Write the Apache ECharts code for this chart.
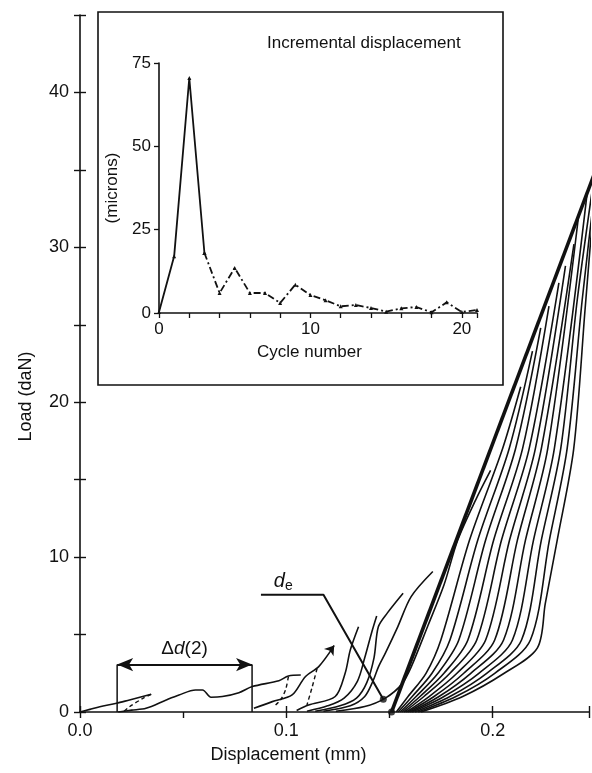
<!DOCTYPE html>
<html><head><meta charset="utf-8">
<script src="https://cdn.jsdelivr.net/npm/echarts/dist/echarts.min.js"></script>
<style>html,body{margin:0;padding:0;background:#fff}#c{width:592px;height:773px}</style>
</head><body><div id="c"></div>
<script>
// ---------- main chart: load vs displacement (x in mm, y in daN) ----------
const xTicks = [0.0, 0.1, 0.2];
const yTicks = [0, 10, 20, 30, 40];

const cycle1 = [[0,0],[0.0048,0.17],[0.0096,0.34],[0.0177,0.56],[0.024,0.78],[0.0345,1.14]];
const cycle2 = [[0.0185,0],[0.025,0.12],[0.032,0.24],[0.0418,0.78],[0.048,1.1],[0.056,1.42],[0.0594,1.42],[0.0635,0.95],[0.069,1.0],[0.077,1.25],[0.0835,1.64],[0.0964,2.02],[0.101,2.33],[0.107,2.39]];
const cycle3 = [[0.0843,0.24],[0.0932,0.67],[0.1028,1.1],[0.1092,2.28],[0.1157,2.93],[0.1229,4.22]];
const cycle4 = [[0.105,0.1],[0.1108,0.45],[0.1237,1.0],[0.1285,2.5],[0.131,4.0],[0.135,5.5]];
const cycle5 = [[0.110,0.05],[0.120,0.4],[0.128,0.9],[0.1345,2.0],[0.138,3.5],[0.1415,5.2],[0.1438,6.2]];
const cycle6 = [[0.114,0.05],[0.126,0.4],[0.134,0.9],[0.139,1.9],[0.1425,3.5],[0.1446,5.5],[0.149,6.4],[0.1566,7.67]];
const cycle7 = [[0.118,0.05],[0.131,0.4],[0.138,1.0],[0.142,2.0],[0.1446,2.9],[0.148,3.8],[0.154,5.5],[0.1605,7.45],[0.171,9.07]];
const cycle8 = [[0.124,0.05],[0.138,0.35],[0.148,0.9],[0.156,1.8],[0.1605,2.9],[0.1687,5.6],[0.1764,8.2],[0.1831,11.1],[0.1918,13.7],[0.199,15.6]];
const cycle9  = [[0.1533,0],[0.1590,1.0],[0.1677,2.5],[0.1749,4.65],[0.1888,11.1],[0.2048,17.0],[0.2136,21.0]];
const cycle10 = [[0.1542,0],[0.1610,1.0],[0.1706,2.5],[0.1793,4.65],[0.1928,11.1],[0.2080,17.0],[0.2193,23.3]];
const cycle11 = [[0.1552,0],[0.1629,1.0],[0.1735,2.5],[0.1836,4.65],[0.1966,11.1],[0.2111,17.0],[0.2233,24.8]];
const cycle12 = [[0.1561,0],[0.1648,1.0],[0.1764,2.5],[0.1880,4.65],[0.2005,11.1],[0.2145,17.0],[0.2273,26.2]];
const cycle13 = [[0.1571,0],[0.1667,1.0],[0.1793,2.5],[0.1923,4.65],[0.2043,11.1],[0.2177,17.0],[0.2321,27.7]];
const cycle14 = [[0.1581,0],[0.1692,1.0],[0.1827,2.5],[0.1966,4.65],[0.2082,11.1],[0.2207,17.0],[0.2353,28.8]];
const cycle15 = [[0.1590,0],[0.1716,1.0],[0.1860,2.5],[0.2010,4.65],[0.2120,11.1],[0.2236,17.0],[0.2394,30.2]];
const cycle16 = [[0.1600,0],[0.1740,1.0],[0.1894,2.5],[0.2053,4.65],[0.2159,11.1],[0.2267,17.0],[0.2418,32.2]];
const cycle17 = [[0.1610,0],[0.1764,1.0],[0.1933,2.5],[0.2096,4.65],[0.2198,11.1],[0.2299,17.0],[0.2458,33.5]];
const cycle18 = [[0.1624,0],[0.1793,1.0],[0.1971,2.5],[0.2140,4.65],[0.2236,11.1],[0.2330,17.0],[0.2410,26.6],[0.2487,34.1]];
const cycle19 = [[0.1639,0],[0.1822,1.0],[0.2010,2.5],[0.2183,4.65],[0.2275,11.1],[0.2361,17.0],[0.2434,26.6],[0.2506,35.0]];
const cycle20 = [[0.1653,0],[0.1855,1.0],[0.2056,2.5],[0.2217,4.14],[0.2255,7.0],[0.2313,11.1],[0.2393,17.0],[0.2448,26.0],[0.2506,35.5]];

const unload1 = [[0.0345,1.14],[0.0305,0.88],[0.024,0.34],[0.021,0]];
const unload2 = [[0.101,2.28],[0.0996,1.42],[0.0972,0.78],[0.0948,0.45]];
const unload3 = [[0.1149,2.8],[0.1125,1.6],[0.110,0.45]];

const elasticLine = [[0.151,0],[0.25,35]];
const deLeader = [[0.0877,7.57],[0.118,7.57],[0.147,0.82]];
const deDots = [[0.147,0.82],[0.151,0]];
const deLabelAt = [0.0985,8.4];
const deltaD2 = {x1:0.018, x2:0.0834, y:3.06};
const arrowCycle3 = [[0.1212,3.95],[0.1232,4.3]];

// ---------- inset: incremental displacement ----------
const cycles = [0,1,2,3,4,5,6,7,8,9,10,11,12,13,14,15,16,17,18,19,20,21];
const microns = [0.3,17,70.5,18,6,13.5,6,6,3,8.5,5.4,3.8,2,2.4,1.5,0.4,1.4,1.8,0.2,3.2,0.3,0.9];
const insetXTicks = [0,10,20];
const insetYTicks = [0,25,50,75];

const FONT = 'Liberation Sans, Arial, Helvetica, sans-serif';
const INK = '#111';

const loadingCurves = [cycle1,cycle2,cycle3,cycle4,cycle5,cycle6,cycle7,cycle8,cycle9,cycle10,cycle11,cycle12,cycle13,cycle14,cycle15,cycle16,cycle17,cycle18,cycle19,cycle20];
const unloadCurves = [unload1,unload2,unload3];

const near = (v, list) => list.some(t => Math.abs(t - v) < 1e-6);

const series = [];
loadingCurves.forEach(c => series.push({
  type:'line', xAxisIndex:0, yAxisIndex:0, data:c, showSymbol:false, smooth:0.3,
  lineStyle:{color:INK, width:1.6}, silent:true, z:3
}));
unloadCurves.forEach(c => series.push({
  type:'line', xAxisIndex:0, yAxisIndex:0, data:c, showSymbol:false, smooth:0.3,
  lineStyle:{color:INK, width:1.4, type:[4,3]}, silent:true, z:3
}));
series.push({
  type:'line', xAxisIndex:0, yAxisIndex:0, data:elasticLine, showSymbol:false,
  lineStyle:{color:INK, width:3.6}, silent:true, z:4
});
series.push({
  type:'line', xAxisIndex:0, yAxisIndex:0, data:deLeader, showSymbol:false,
  lineStyle:{color:INK, width:2}, silent:true, z:5,
  markPoint:{
    symbol:'circle', symbolSize:0, silent:true,
    data:[{coord:deLabelAt, value:'d', label:{show:true, position:'inside',
      formatter:'{d|d}{e|e}', rich:{d:{fontFamily:FONT, fontSize:20, fontStyle:'italic', color:INK},
        e:{fontFamily:FONT, fontSize:14, color:INK, padding:[8,0,0,0]}}}}]
  },
  markLine:{
    silent:true, symbol:['none','arrow'], symbolSize:9, label:{show:false},
    lineStyle:{color:INK, width:1.6, type:'solid'},
    data:[[{coord:arrowCycle3[0]},{coord:arrowCycle3[1]}]]
  }
});
series.push({
  type:'scatter', xAxisIndex:0, yAxisIndex:0, data:deDots, symbol:'circle', symbolSize:7,
  itemStyle:{color:INK}, silent:true, z:6
});
// delta d(2) bracket
series.push({
  type:'line', xAxisIndex:0, yAxisIndex:0,
  data:[[deltaD2.x1,0],[deltaD2.x1,deltaD2.y]], showSymbol:false,
  lineStyle:{color:INK, width:1.5}, silent:true
});
series.push({
  type:'line', xAxisIndex:0, yAxisIndex:0,
  data:[[deltaD2.x2,0],[deltaD2.x2,deltaD2.y]], showSymbol:false,
  lineStyle:{color:INK, width:1.5}, silent:true,
  markLine:{
    silent:true, symbol:['arrow','arrow'], symbolSize:[10,16],
    lineStyle:{color:INK, width:2, type:'solid'},
    label:{show:true, position:'middle', distance:6,
      formatter:'Δ{i|d}(2)', fontFamily:FONT, fontSize:19, color:INK,
      rich:{i:{fontFamily:FONT, fontSize:19, fontStyle:'italic', color:INK}}},
    data:[[{coord:[deltaD2.x1,deltaD2.y]},{coord:[deltaD2.x2,deltaD2.y]}]]
  }
});

// inset series
const insetPts = cycles.map((c,i) => [c, microns[i]]);
series.push({
  type:'line', xAxisIndex:2, yAxisIndex:2, data:insetPts.slice(0,4),
  symbol:'triangle', symbolSize:4, showSymbol:true,
  itemStyle:{color:INK}, lineStyle:{color:INK, width:1.8}, silent:true
});
series.push({
  type:'line', xAxisIndex:2, yAxisIndex:2, data:insetPts.slice(3),
  symbol:'triangle', symbolSize:4, showSymbol:true,
  itemStyle:{color:INK}, lineStyle:{color:INK, width:1.8, type:[7,3,2,3]}, silent:true
});

const axisTxt = {fontFamily:FONT, fontSize:18, color:INK};
const insetTxt = {fontFamily:FONT, fontSize:17, color:INK};

const option = {
  animation:false,
  backgroundColor:'#fff',
  title:{text:'Incremental displacement', left:267, top:35, padding:0,
    textStyle:{fontFamily:FONT, fontSize:17, fontWeight:'normal', color:INK}},
  grid:[
    {left:80, right:0, top:15, bottom:61},
    {left:159, right:115, top:63, bottom:460}
  ],
  xAxis:[
    {gridIndex:0, type:'value', min:0, max:0.2467, interval:0.05, position:'bottom',
     axisLine:{lineStyle:{color:INK, width:1.6}}, splitLine:{show:false},
     axisTick:{inside:false, length:6, lineStyle:{color:INK, width:1.4}},
     axisLabel:Object.assign({margin:10, formatter:v => near(v,xTicks) ? v.toFixed(1) : ''}, axisTxt),
     name:'Displacement (mm)', nameLocation:'middle', nameGap:34,
     nameTextStyle:Object.assign({padding:[0,92,0,0]}, axisTxt)},
    {gridIndex:0, type:'value', min:0, max:0.2467, interval:0.1, position:'bottom',
     axisLine:{show:false}, splitLine:{show:false}, axisLabel:{show:false},
     axisTick:{inside:true, length:6, lineStyle:{color:INK, width:1.4}}},
    {gridIndex:1, type:'value', min:0, max:21, interval:2, position:'bottom',
     axisLine:{lineStyle:{color:INK, width:1.6}}, splitLine:{show:false},
     axisTick:{inside:false, length:5, lineStyle:{color:INK, width:1.3}},
     axisLabel:Object.assign({margin:8, formatter:v => near(v,insetXTicks) ? String(v) : ''}, insetTxt),
     name:'Cycle number', nameLocation:'middle', nameGap:31,
     nameTextStyle:Object.assign({padding:[0,17,0,0]}, insetTxt)}
  ],
  yAxis:[
    {gridIndex:0, type:'value', min:0, max:45, interval:5, position:'left',
     axisLine:{show:true, lineStyle:{color:INK, width:1.6}}, splitLine:{show:false},
     axisTick:{show:true, inside:false, length:6, lineStyle:{color:INK, width:1.4}},
     axisLabel:Object.assign({margin:11, formatter:v => near(v,yTicks) ? String(v) : ''}, axisTxt),
     name:'Load (daN)', nameLocation:'middle', nameGap:45,
     nameTextStyle:Object.assign({padding:[0,66,0,0]}, axisTxt)},
    {gridIndex:0, type:'value', min:0, max:45, interval:5, position:'left',
     axisLine:{show:false}, splitLine:{show:false}, axisLabel:{show:false},
     axisTick:{show:true, inside:true, length:6, lineStyle:{color:INK, width:1.4}}},
    {gridIndex:1, type:'value', min:0, max:75, interval:25, position:'left',
     axisLine:{show:true, lineStyle:{color:INK, width:1.6}}, splitLine:{show:false},
     axisTick:{show:true, inside:false, length:5, lineStyle:{color:INK, width:1.3}},
     axisLabel:Object.assign({margin:8, formatter:v => near(v,insetYTicks) ? String(v) : ''}, insetTxt),
     name:'(microns)', nameLocation:'middle', nameGap:38,
     nameTextStyle:Object.assign({}, insetTxt)}
  ],
  graphic:[
    {type:'rect', shape:{x:98, y:12, width:405, height:373}, silent:true, z:1,
     style:{stroke:INK, lineWidth:1.6, fill:null}}
  ],
  series: series
};

const chart = echarts.init(document.getElementById('c'), null, {renderer:'canvas'});
chart.setOption(option);
</script></body></html>
